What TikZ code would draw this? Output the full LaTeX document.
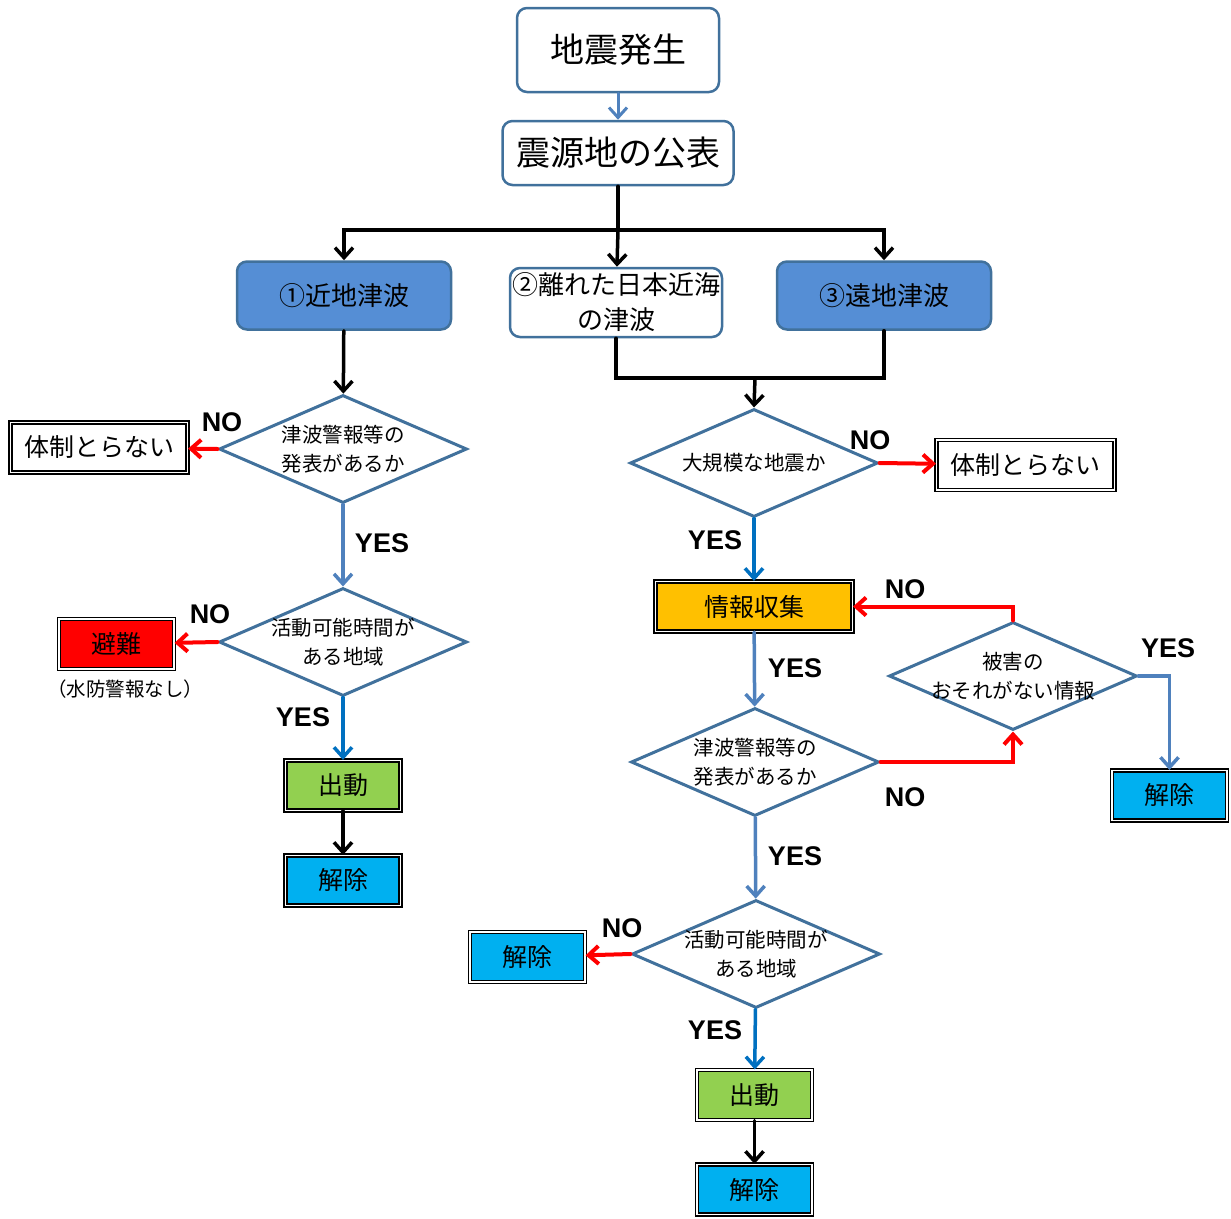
\documentclass[tikz,border=0pt]{standalone}
\usepackage{fontspec}
\setmainfont{Noto Sans CJK JP}
\newfontfamily\yesnofont{Liberation Sans}
\usepackage{tikz}
\usetikzlibrary{arrows.meta,shapes.geometric,positioning}

\definecolor{boxblue}{RGB}{65,113,156}
\definecolor{arrowblue}{RGB}{79,129,189}
\definecolor{brightblue}{RGB}{0,112,192}
\definecolor{areablue}{RGB}{85,142,213}
\definecolor{infoorange}{RGB}{255,192,0}
\definecolor{gogreen}{RGB}{146,208,80}
\definecolor{endcyan}{RGB}{0,176,240}

\begin{document}
\begin{tikzpicture}[x=1pt,y=-1pt,>={Straight Barb[length=10pt,width=18pt]},
    line width=3.5pt,line cap=round,
    round box/.style={draw=boxblue,line width=2.5pt,rounded corners=10pt,fill=white,
                      inner sep=0pt,align=center},
    area box/.style={round box,fill=areablue,minimum width=214pt,minimum height=68pt,
                     font=\fontsize{26}{30}\selectfont},
    decision/.style={diamond,aspect=2.3,draw=boxblue,line width=3pt,fill=white,inner sep=0pt,
                     minimum width=248pt,minimum height=108pt,align=center,
                     font=\fontsize{20.5}{29}\selectfont},
    result box/.style={draw=black,double,double distance=1.8pt,line width=1.2pt,
                       inner sep=0pt,minimum width=115pt,minimum height=50pt,
                       font=\fontsize{25}{30}\selectfont},
    answer/.style={font=\yesnofont\bfseries\fontsize{27}{27}\selectfont},
    no arrow/.style={->,draw=red,line width=4pt},
    yes arrow/.style={->,draw=brightblue},
    flow arrow/.style={->,draw=arrowblue}]

  \useasboundingbox (0,0) rectangle (1231,1218);

  % top
  \node[round box,minimum width=202pt,minimum height=84pt,font=\fontsize{34}{40}\selectfont]
    (quake) at (618,50) {地震発生};
  \node[round box,minimum width=231pt,minimum height=64pt,font=\fontsize{34}{40}\selectfont]
    (center) at (618,153) {震源地の公表};

  % three cases
  \node[area box] (near) at (344,295.5) {①近地津波};
  \node[round box,minimum width=212pt,minimum height=69pt,font=\fontsize{26}{35}\selectfont]
    (mid) at (616,302.5) {②離れた日本近海\\の津波};
  \node[area box] (far) at (884,295.5) {③遠地津波};

  \coordinate (split) at (618,230);
  \coordinate (join) at (755,378);

  % left branch
  \node[decision] (q1) at (343,449) {津波警報等の\\発表があるか};
  \node[result box,minimum width=177pt,minimum height=50pt] (none1) at (99,447.5) {体制とらない};
  \node[decision,inner xsep=-4pt] (q2) at (343,642) {活動可能時間が\\ある地域};
  \node[result box,fill=red] (flee) at (116.5,644) {避難};
  \node[font=\fontsize{19.5}{22}\selectfont] (flee note) at (125,689) {（水防警報なし）};
  \node[result box,fill=gogreen] (go1) at (343,785.5) {出動};
  \node[result box,fill=endcyan] (end1) at (343,880.5) {解除};

  % right branch
  \node[decision] (q3) at (754,463) {大規模な地震か};
  \node[result box,minimum width=178pt,minimum height=50pt] (none2) at (1025.5,465) {体制とらない};
  \node[result box,fill=infoorange,minimum width=197pt] (info) at (754,606.5) {情報収集};
  \node[decision] (q4) at (755,762) {津波警報等の\\発表があるか};
  \node[decision,inner xsep=-14pt] (q5) at (1013,676) {被害の\\おそれがない情報};
  \node[result box,fill=endcyan] (end2) at (1169.5,795.5) {解除};
  \node[decision,inner xsep=-4pt] (q6) at (756,954) {活動可能時間が\\ある地域};
  \node[result box,fill=endcyan] (end3) at (527.5,957) {解除};
  \node[result box,fill=gogreen] (go2) at (754.5,1095) {出動};
  \node[result box,fill=endcyan] (end4) at (754.5,1189.5) {解除};

  % connectors
  \path (quake) edge[flow arrow,line width=3pt] (center);
  \draw (center) -- (split);
  \draw[->] (split) -| (near);
  \draw[->] (split) -| (far);
  \draw[->] (split) -- (mid);
  \draw (mid.south) |- (far.south |- join) -- (far.south);
  \draw[->] (join) -- (q3.north);

  \path (near) edge[->] (q1)
        (q1.west) edge[no arrow] (none1)
        (q1) edge[flow arrow] (q2)
        (q2.west) edge[no arrow] (flee)
        (q2) edge[yes arrow] (go1)
        (go1) edge[->] (end1);

  \path (q3.east) edge[no arrow] (none2)
        (q3) edge[yes arrow] (info)
        (info) edge[flow arrow] (q4)
        (q4) edge[flow arrow] (q6)
        (q6.west) edge[no arrow] (end3)
        (q6) edge[yes arrow] (go2)
        (go2) edge[->] (end4);
  \draw[no arrow] (q4.east) -| (q5.south);
  \draw[no arrow] (q5.north) |- (info.east);
  \draw[flow arrow] (q5.east) -| (end2.north);

  % answers
  \node[answer] (n1) at (222,422) {NO};
  \node[answer] (y1) at (382,543) {YES};
  \node[answer] (n2) at (210,614) {NO};
  \node[answer] (y2) at (303,717) {YES};
  \node[answer] (n3) at (870,440) {NO};
  \node[answer] (y3) at (715,540) {YES};
  \node[answer] (y4) at (795,668) {YES};
  \node[answer] (n4) at (905,797) {NO};
  \node[answer] (n5) at (905,589) {NO};
  \node[answer] (y5) at (1168,648) {YES};
  \node[answer] (y6) at (795,856) {YES};
  \node[answer] (n6) at (622,928) {NO};
  \node[answer] (y7) at (715,1030) {YES};
\end{tikzpicture}
\end{document}
